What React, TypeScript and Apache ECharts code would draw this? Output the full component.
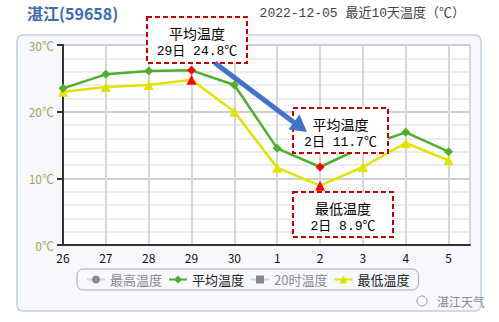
import React, { useEffect, useRef } from "react";
import * as echarts from "echarts";

const days = ["26", "27", "28", "29", "30", "1", "2", "3", "4", "5"];
const avgTemp = [23.5, 25.6, 26.1, 26.2, 24.0, 14.5, 11.7, 14.7, 16.9, 14.0];
const minTemp = [23.0, 23.7, 24.0, 24.8, 20.0, 11.6, 8.9, 11.7, 15.3, 12.7];
const redIdx = [3, 6];
const seriesNames = ["最高温度", "平均温度", "20时温度", "最低温度"];
const yTicks = [0, 10, 20, 30];

const CJK = '"Noto Sans CJK SC", "Noto Sans", sans-serif';
const MONO = '"Liberation Mono", "Noto Sans CJK SC", monospace';

function toPoints(vals: number[], color: string) {
  return vals.map((v, i) => ({
    value: [i, v],
    itemStyle: { color: redIdx.includes(i) ? "#ff0000" : color },
  }));
}

function note(x: number, y: number, w: number, h: number, l1: string, l2: string) {
  return [
    {
      type: "rect",
      z: 100,
      shape: { x, y, width: w, height: h },
      style: { fill: "#ffffff", stroke: "#c00000", lineWidth: 2, lineDash: [5, 3] },
    },
    {
      type: "text",
      z: 101,
      x: x + w / 2,
      y: y + 16,
      style: { text: l1, fill: "#000", font: `14px ${CJK}`, align: "center", verticalAlign: "middle" },
    },
    {
      type: "text",
      z: 101,
      x: x + w / 2,
      y: y + 34,
      style: { text: l2, fill: "#000", font: `13px ${MONO}`, align: "center", verticalAlign: "middle" },
    },
  ];
}

export default function App() {
  const ref = useRef<HTMLDivElement>(null);
  useEffect(() => {
    if (!ref.current) return;
    const chart = echarts.init(ref.current, null, { renderer: "svg" });
    const green = "#4fae2c";
    const yellow = "#e2e200";
    const selected: Record<string, boolean> = {};
    selected[seriesNames[0]] = false;
    selected[seriesNames[2]] = false;
    chart.setOption({
      animation: false,
      backgroundColor: "#ffffff",
      grid: { left: 63, top: 45, right: 29, bottom: 77, show: true, backgroundColor: "#ffffff", borderWidth: 0 },
      legend: {
        left: 77,
        top: 269,
        padding: [4, 9, 4, 9],
        borderColor: "#a8a8a8",
        borderWidth: 1,
        borderRadius: 6,
        itemGap: 6,
        itemWidth: 18,
        itemHeight: 10,
        inactiveColor: "#8a8a8a",
        data: seriesNames,
        selected,
        textStyle: { fontSize: 13, fontFamily: CJK, color: "#222" },
        z: 20,
      },
      xAxis: {
        type: "value",
        min: 0,
        max: 9.5,
        interval: 1,
        axisLine: { show: true, onZero: false, lineStyle: { color: "#333", width: 2 } },
        axisTick: { show: false },
        axisLabel: {
          color: "#111",
          fontSize: 12,
          fontFamily: CJK,
          margin: 6,
          formatter: (v: number) => (Number.isInteger(v) ? days[v] ?? "" : ""),
        },
        splitLine: { show: true, lineStyle: { color: "#d6d6d6", width: 2 } },
      },
      yAxis: {
        type: "value",
        min: 0,
        max: 30,
        interval: 10,
        axisLine: { show: true, lineStyle: { color: "#333", width: 2 } },
        axisTick: { show: true, length: 6, lineStyle: { color: "#333", width: 2 } },
        axisLabel: {
          color: "#9ea85a",
          fontSize: 12,
          fontFamily: CJK,
          margin: 9,
          formatter: (v: number) => (yTicks.includes(v) ? `${v}℃` : ""),
        },
        splitLine: { show: true, lineStyle: { color: "#cfcfcf", width: 2 } },
        minorTick: { show: false, splitNumber: 5 },
        minorSplitLine: { show: true, lineStyle: { color: "#e6e6e6", width: 1.5 } },
      },
      series: [
        { name: seriesNames[0], type: "line", data: [], symbol: "circle", itemStyle: { color: "#808080" }, lineStyle: { color: "#808080" } },
        {
          name: seriesNames[1],
          type: "line",
          data: toPoints(avgTemp, green),
          symbol: "diamond",
          symbolSize: 9,
          itemStyle: { color: green },
          lineStyle: { color: green, width: 2.5 },
          z: 5,
        },
        { name: seriesNames[2], type: "line", data: [], symbol: "rect", itemStyle: { color: "#808080" }, lineStyle: { color: "#808080" } },
        {
          name: seriesNames[3],
          type: "line",
          data: toPoints(minTemp, yellow),
          symbol: "triangle",
          symbolSize: 10,
          itemStyle: { color: yellow },
          lineStyle: { color: yellow, width: 2.5 },
          z: 4,
        },
      ],
      graphic: [
        {
          type: "rect",
          z: -10,
          shape: { x: 17, y: 35, width: 464, height: 276, r: 6 },
          style: { fill: "#f7f8fd", stroke: "#bccfe6", lineWidth: 1.5 },
        },
        {
          type: "text",
          x: 27,
          y: 13,
          style: { text: "湛江(59658)", fill: "#3c6cb2", font: `bold 16px ${CJK}`, verticalAlign: "middle" },
        },
        {
          type: "text",
          x: 465,
          y: 13,
          style: { text: "2022-12-05 最近10天温度（℃）", fill: "#444", font: `13px ${MONO}`, align: "right", verticalAlign: "middle" },
        },
        ...note(147, 17, 100, 46, "平均温度", "29日 24.8℃"),
        ...note(293, 108, 95, 45, "平均温度", "2日 11.7℃"),
        ...note(293, 192, 100, 45, "最低温度", "2日 8.9℃"),
        {
          type: "line",
          z: 110,
          shape: { x1: 215, y1: 63, x2: 296, y2: 124 },
          style: { stroke: "#4472c4", lineWidth: 5 },
        },
        {
          type: "polygon",
          z: 110,
          shape: { points: [[307, 132], [288.5, 129.5], [299.5, 114.5]] },
          style: { fill: "#4472c4" },
        },
        {
          type: "circle",
          z: 20,
          shape: { cx: 422, cy: 301, r: 5 },
          style: { fill: "none", stroke: "#999", lineWidth: 1 },
        },
        {
          type: "text",
          x: 437,
          y: 301,
          z: 20,
          style: { text: "湛江天气", fill: "#888", font: `12px ${CJK}`, verticalAlign: "middle" },
        },
      ],
    });
    return () => chart.dispose();
  }, []);
  return <div ref={ref} style={{ position: "absolute", left: 0, top: 0, width: 499, height: 322 }} />;
}
